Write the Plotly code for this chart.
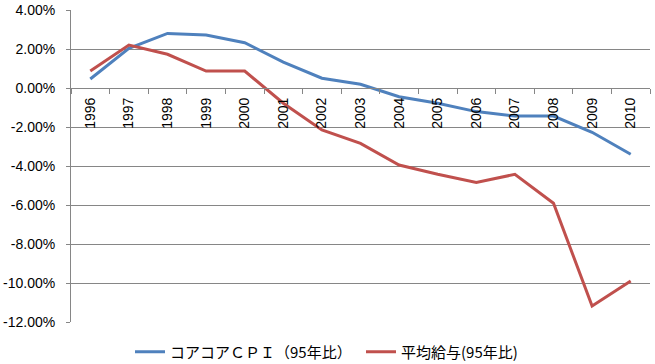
import plotly.graph_objects as go

years = ["1996", "1997", "1998", "1999", "2000", "2001", "2002", "2003",
         "2004", "2005", "2006", "2007", "2008", "2009", "2010"]
core_cpi = [0.46, 2.03, 2.80, 2.72, 2.32, 1.33, 0.50, 0.19,
            -0.45, -0.78, -1.21, -1.44, -1.44, -2.27, -3.40]
avg_wage = [0.87, 2.20, 1.73, 0.87, 0.87, -0.78, -2.15, -2.84,
            -3.95, -4.42, -4.84, -4.43, -5.91, -11.18, -9.90]
ytick_vals = [4, 2, 0, -2, -4, -6, -8, -10, -12]
ytick_text = ["4.00%", "2.00%", "0.00%", "-2.00%", "-4.00%", "-6.00%",
              "-8.00%", "-10.00%", "-12.00%"]
name_cpi = "コアコアＣＰＩ（95年比）"
name_wage = "平均給与(95年比)"

fig = go.Figure()
fig.add_trace(go.Scatter(x=years, y=core_cpi, mode="lines", name=name_cpi,
                         line=dict(color="#4F81BD", width=3)))
fig.add_trace(go.Scatter(x=years, y=avg_wage, mode="lines", name=name_wage,
                         line=dict(color="#C0504D", width=3)))

fig.update_layout(
    width=655, height=364,
    margin=dict(l=71, r=5, t=10, b=42, autoexpand=False),
    plot_bgcolor="white", paper_bgcolor="white",
    font=dict(family="Liberation Sans, Arial, sans-serif", size=14, color="black"),
    showlegend=True,
    legend=dict(orientation="h", xref="container", x=130 / 655, xanchor="left",
                yref="container", y=12 / 364, yanchor="middle",
                font=dict(family="Noto Sans CJK JP, sans-serif", size=15),
                itemwidth=30, entrywidth=186, bgcolor="rgba(0,0,0,0)"),
    xaxis=dict(type="category", anchor="free", position=0.75,
               showline=True, linecolor="#868686", linewidth=1,
               ticks="outside", tickson="boundaries", ticklen=5, tickcolor="#868686",
               tickangle=-90, showgrid=False, zeroline=False, automargin=False,
               range=[-0.5, 14.5], ticklabelstandoff=3),
    yaxis=dict(range=[-12, 4], tickvals=ytick_vals, ticktext=ytick_text,
               showline=True, linecolor="#868686", linewidth=1,
               ticks="outside", ticklen=4, tickcolor="#868686",
               showgrid=True, gridcolor="#868686", gridwidth=1, automargin=False,
               zeroline=False, ticklabelstandoff=8),
)

fig.write_html("out.html", config={"displayModeBar": False},
               post_script="document.body.style.margin='0';")
